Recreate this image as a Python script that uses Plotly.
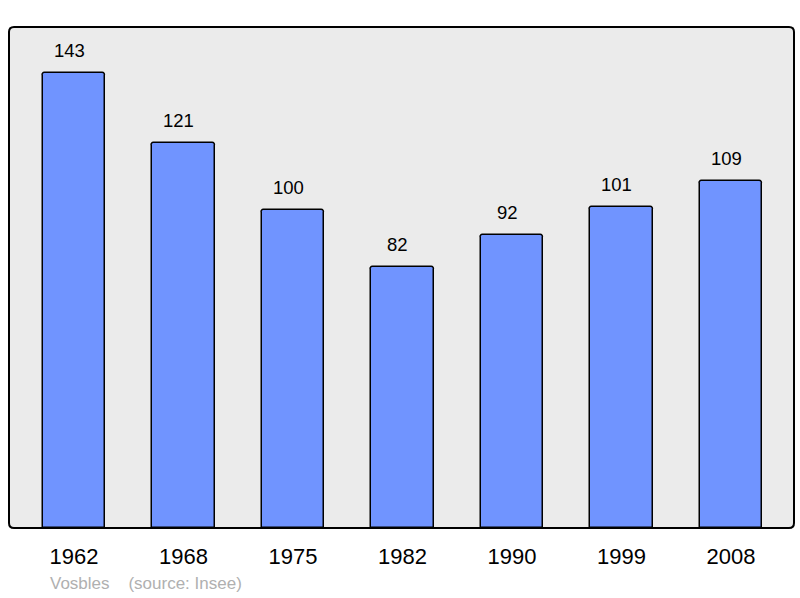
import plotly.graph_objects as go

years = ["1962", "1968", "1975", "1982", "1990", "1999", "2008"]
population = [143, 121, 100, 82, 92, 101, 109]

bar_color = "#7094ff"
bg_color = "#ebebeb"

fig = go.Figure()
fig.add_trace(go.Bar(
    x=list(range(len(years))),
    y=population,
    width=0.575,
    marker=dict(color=bar_color, line=dict(color="black", width=1.5), cornerradius=3),
    hoverinfo="skip",
))

for i, v in enumerate(population):
    fig.add_annotation(x=i, y=v, text=str(v), showarrow=False, yanchor="bottom",
                       yshift=10, xshift=-4.5,
                       font=dict(size=18.5, color="black", family="Liberation Sans, Arial"))

fig.add_annotation(xref="paper", yref="paper", x=(48 - 9) / 785, y=-(583 - 528) / 501,
                   xanchor="left", yanchor="middle", showarrow=False,
                   text="Vosbles&nbsp;&nbsp;&nbsp;&nbsp;(source: Insee)",
                   font=dict(size=17, color="#b0b0b0", family="Liberation Sans, Arial"))

# rounded frame around plot area
rx, ry = 5 / 785, 5 / 501
path = (f"M {rx},0 L {1-rx},0 Q 1,0 1,{ry} L 1,{1-ry} Q 1,1 {1-rx},1 "
        f"L {rx},1 Q 0,1 0,{1-ry} L 0,{ry} Q 0,0 {rx},0 Z")
fig.add_shape(type="path", xref="paper", yref="paper", path=path,
              line=dict(color="black", width=2), fillcolor="rgba(0,0,0,0)", layer="above")

fig.update_layout(
    width=800, height=598,
    margin=dict(l=9, r=6, t=27, b=70),
    paper_bgcolor="white",
    plot_bgcolor=bg_color,
    showlegend=False,
    bargap=0,
    font=dict(family="Liberation Sans, Arial"),
    xaxis=dict(
        range=[-0.5935, 6.5755],
        tickmode="array", tickvals=list(range(len(years))), ticktext=years,
        tickfont=dict(size=22, color="black"),
        ticks="outside", ticklen=9, tickcolor="rgba(0,0,0,0)",
        showgrid=False, zeroline=False, showline=False, fixedrange=True,
    ),
    yaxis=dict(
        range=[0, 157.45], showticklabels=False, showgrid=False,
        zeroline=False, showline=False, fixedrange=True,
    ),
)

fig.write_html("out.html", config={"displayModeBar": False},
               post_script="document.body.style.margin='0';document.body.style.padding='0';")
